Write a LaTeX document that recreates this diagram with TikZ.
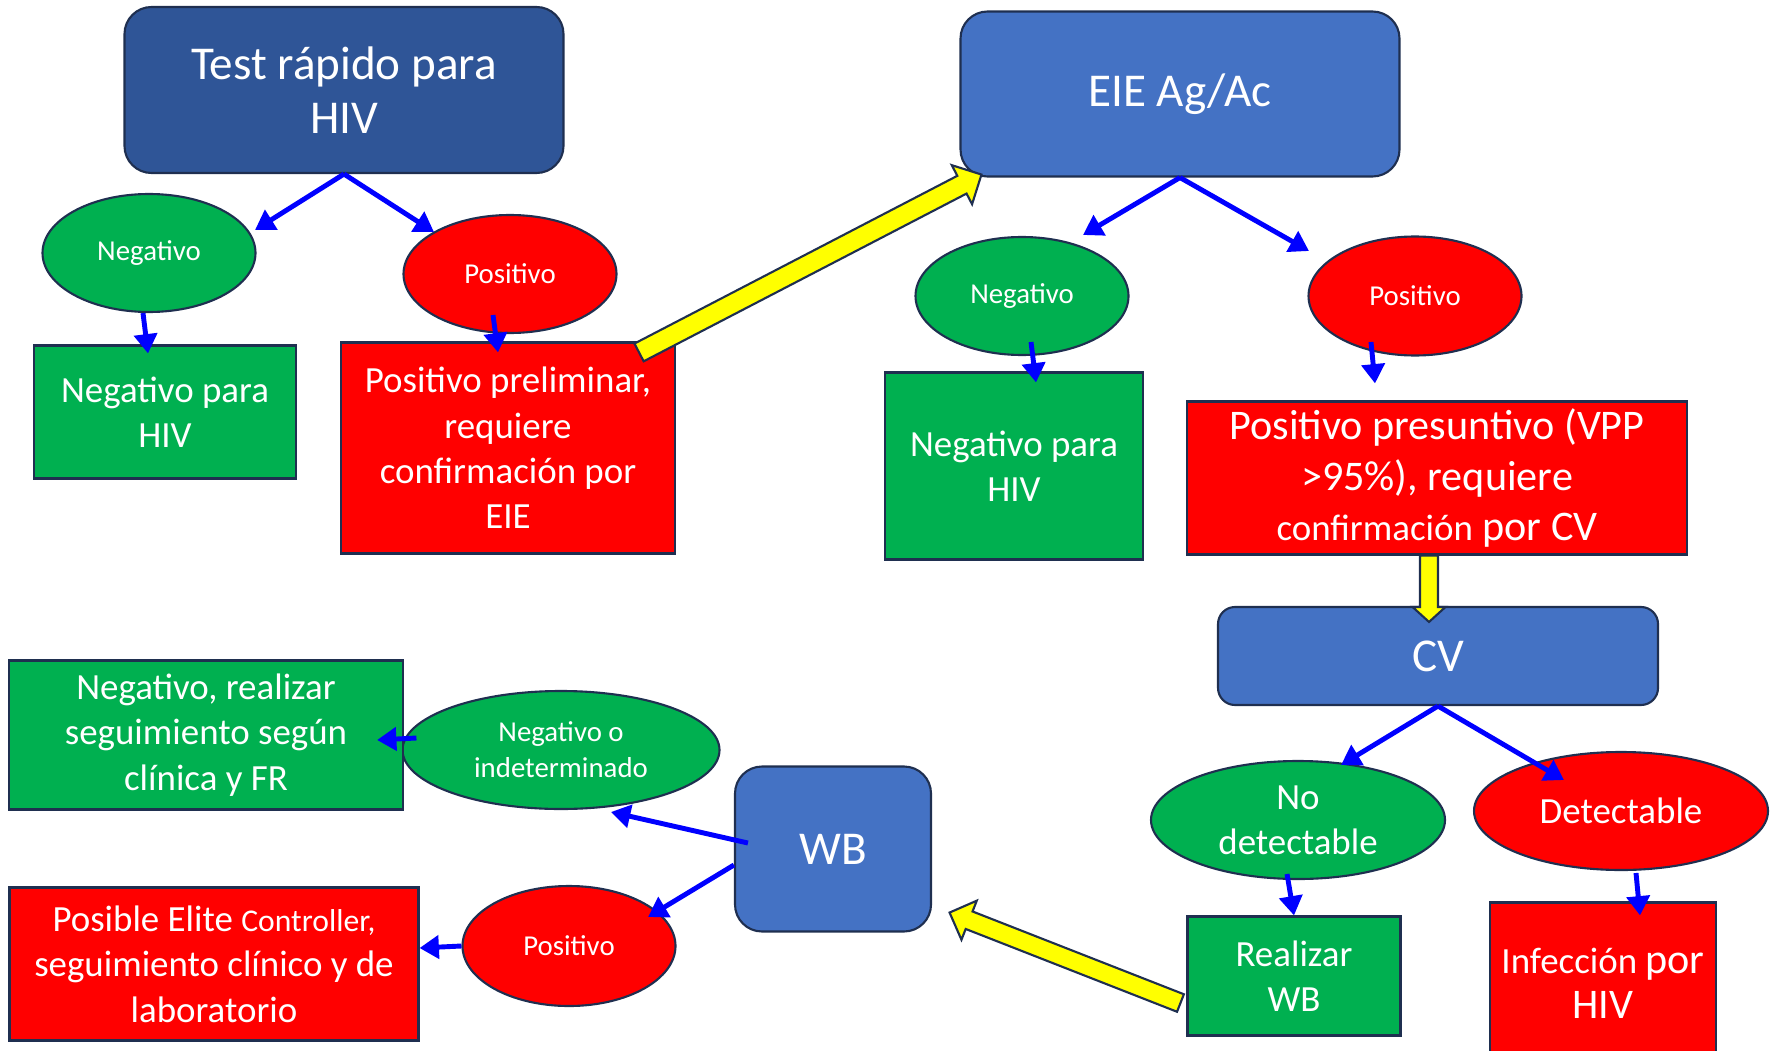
\documentclass[tikz,border=0pt]{standalone}
\usepackage{fontspec}
\setmainfont{Carlito}
\usetikzlibrary{shapes.geometric,arrows.meta,calc}

\definecolor{bordc}{HTML}{1F2F50}
\definecolor{dblue}{HTML}{2F5597}
\definecolor{mblue}{HTML}{4472C4}
\definecolor{okgreen}{HTML}{00B050}
\definecolor{badred}{HTML}{FF0000}
\definecolor{arrblue}{HTML}{0000FF}
\definecolor{hlyellow}{HTML}{FFFF00}

% yellow block arrow: tail, tip, half shaft, half head, head length
\newcommand{\blockarr}[5]{%
  \coordinate (#2-base) at ($(#2)!#5!(#1)$);
  \draw[yarrow] ($(#1)!#3!90:(#2)$) -- ($(#2-base)!#3!-90:(#1)$)
    -- ($(#2-base)!#4!-90:(#1)$) -- (#2) -- ($(#2-base)!#4!90:(#1)$)
    -- ($(#2-base)!#3!90:(#1)$) -- ($(#1)!#3!-90:(#2)$) -- cycle;}

\begin{document}
\begin{tikzpicture}[
  rbox/.style={draw=bordc, line width=0.6pt, rounded corners=0.27cm, text=white, align=center, inner sep=0pt},
  sbox/.style={draw=bordc, line width=0.6pt, rectangle, text=white, align=center, inner sep=0pt},
  oval/.style={draw=bordc, line width=0.6pt, ellipse, text=white, align=center, inner sep=0pt},
  bigtxt/.style={font=\fontsize{13.4}{15.5}\selectfont},
  midtxt/.style={font=\fontsize{10.5}{12.9}\selectfont},
  smalltxt/.style={font=\fontsize{8.2}{10.3}\selectfont},
  flow/.style={draw=arrblue, line width=1.4pt, -{Triangle[length=5.5pt,width=6.5pt]}},
  yarrow/.style={draw=bordc, fill=hlyellow, line width=0.6pt, line join=miter}
]

\useasboundingbox (0,0) rectangle (17.73,10.50);

\node[rbox, fill=dblue, minimum width=4.39cm, minimum height=1.66cm, bigtxt] (test) at (3.44,9.60) {Test rápido para\\HIV};
\node[oval, fill=okgreen, minimum width=2.13cm, minimum height=1.18cm, smalltxt] (neg1) at (1.49,7.97) {Negativo};
\node[oval, fill=badred, minimum width=2.13cm, minimum height=1.18cm, smalltxt] (pos1) at (5.10,7.76) {Positivo};
\node[sbox, fill=okgreen, minimum width=2.62cm, minimum height=1.33cm, midtxt] (negbox1) at (1.65,6.38) {Negativo para\\HIV};
\node[sbox, fill=badred, minimum width=3.34cm, minimum height=2.11cm, midtxt] (prelim) at (5.08,6.02) {Positivo preliminar,\\requiere\\confirmación por\\EIE};

\node[rbox, fill=mblue, minimum width=4.39cm, minimum height=1.65cm, bigtxt] (eie) at (11.80,9.56) {EIE Ag/Ac};
\node[oval, fill=okgreen, minimum width=2.13cm, minimum height=1.18cm, smalltxt] (neg2) at (10.22,7.54) {Negativo};
\node[oval, fill=badred, minimum width=2.13cm, minimum height=1.19cm, smalltxt] (pos2) at (14.15,7.54) {Positivo};
\node[sbox, fill=okgreen, minimum width=2.58cm, minimum height=1.87cm, midtxt] (negbox2) at (10.14,5.84) {Negativo para\\HIV};
\node[sbox, fill=badred, minimum width=5.00cm, minimum height=1.53cm, font=\fontsize{12}{14.5}\selectfont] (presunt) at (14.37,5.72) {Positivo presuntivo (VPP\\>95\%), requiere\\{\fontsize{10.5}{14.5}\selectfont confirmación} por CV};

\node[rbox, rounded corners=0.17cm, fill=mblue, minimum width=4.40cm, minimum height=0.98cm, bigtxt] (cv) at (14.38,3.94) {CV};
\node[oval, fill=okgreen, minimum width=2.94cm, minimum height=1.18cm, midtxt] (nodet) at (12.98,2.30) {No\\detectable};
\node[oval, fill=badred, minimum width=2.94cm, minimum height=1.18cm, midtxt] (det) at (16.21,2.39) {Detectable};
\node[sbox, fill=okgreen, minimum width=2.13cm, minimum height=1.19cm, midtxt] (realwb) at (12.94,0.74) {Realizar\\WB};
\node[sbox, fill=badred, minimum width=2.26cm, minimum height=1.61cm, midtxt] (infec) at (16.03,0.67) {Infección {\fontsize{12}{13.5}\selectfont por}\\{\fontsize{12}{13.5}\selectfont HIV}};

\node[rbox, fill=mblue, minimum width=1.96cm, minimum height=1.65cm, bigtxt] (wb) at (8.33,2.01) {WB};
\node[oval, fill=okgreen, minimum width=3.17cm, minimum height=1.18cm, smalltxt] (negind) at (5.61,3.00) {Negativo o\\indeterminado};
\node[oval, fill=badred, minimum width=2.13cm, minimum height=1.20cm, smalltxt] (pos3) at (5.69,1.04) {Positivo};
\node[sbox, fill=okgreen, minimum width=3.94cm, minimum height=1.49cm, midtxt] (negseg) at (2.06,3.15) {Negativo, realizar\\seguimiento según\\clínica y FR};
\node[sbox, fill=badred, minimum width=4.09cm, minimum height=1.53cm, midtxt] (elite) at (2.14,0.86) {Posible Elite {\fontsize{9}{12.9}\selectfont Controller,}\\seguimiento clínico y de\\laboratorio};

\draw[flow] (test.south) -- ($(neg1.center)+(1.06,0.23)$);
\draw[flow] (test.south) -- ($(pos1.center)+(-0.76,0.42)$);
\draw[flow] ($(neg1.south)+(-0.06,0)$) -- ($(negbox1.north)+(-0.17,-0.09)$);
\draw[flow] ($(pos1.center)+(-0.17,-0.41)$) -- ($(prelim.north)+(-0.10,-0.11)$);

\draw[flow] (eie.south) -- ($(neg2.center)+(0.61,0.61)$);
\draw[flow] (eie.south) -- ($(pos2.center)+(-1.06,0.45)$);
\draw[flow] ($(neg2.center)+(0.09,-0.46)$) -- ($(negbox2.north)+(0.22,-0.11)$);
\draw[flow] ($(pos2.center)+(-0.44,-0.46)$) -- ($(presunt.north)+(-0.62,0.17)$);

\draw[flow] (cv.south) -- ($(nodet.center)+(0.43,0.55)$);
\draw[flow] (cv.south) -- ($(det.center)+(-0.57,0.31)$);
\draw[flow] ($(nodet.center)+(-0.11,-0.54)$) -- (realwb.north);
\draw[flow] ($(det.center)+(0.15,-0.62)$) -- ($(infec.north)+(0.37,-0.14)$);

\draw[flow] ($(wb.west)+(0.14,0.06)$) -- ($(negind.center)+(0.50,-0.62)$);
\draw[flow] ($(wb.west)+(0,-0.16)$) -- ($(pos3.center)+(0.79,0.29)$);
\draw[flow] ($(negind.west)+(0.15,0.12)$) -- ($(negseg.east)+(-0.27,-0.05)$);
\draw[flow] (pos3.west) -- ($(elite.east)+(0,0.16)$);

\coordinate (ytail1) at ($(prelim.north east)+(-0.37,-0.11)$);
\coordinate (ytip1) at ($(eie.south west)+(0.22,0.03)$);
\blockarr{ytail1}{ytip1}{0.10cm}{0.22cm}{0.22cm}
\coordinate (ytail2) at ($(presunt.south)+(-0.08,0)$);
\coordinate (ytip2) at ($(ytail2 |- cv.north)+(0,-0.16)$);
\blockarr{ytail2}{ytip2}{0.09cm}{0.165cm}{0.15cm}
\coordinate (ytail3) at ($(realwb.west)+(-0.06,-0.27)$);
\coordinate (ytip3) at ($(wb.south east)+(0.175,0.20)$);
\blockarr{ytail3}{ytip3}{0.094cm}{0.21cm}{0.21cm}

\end{tikzpicture}
\end{document}
